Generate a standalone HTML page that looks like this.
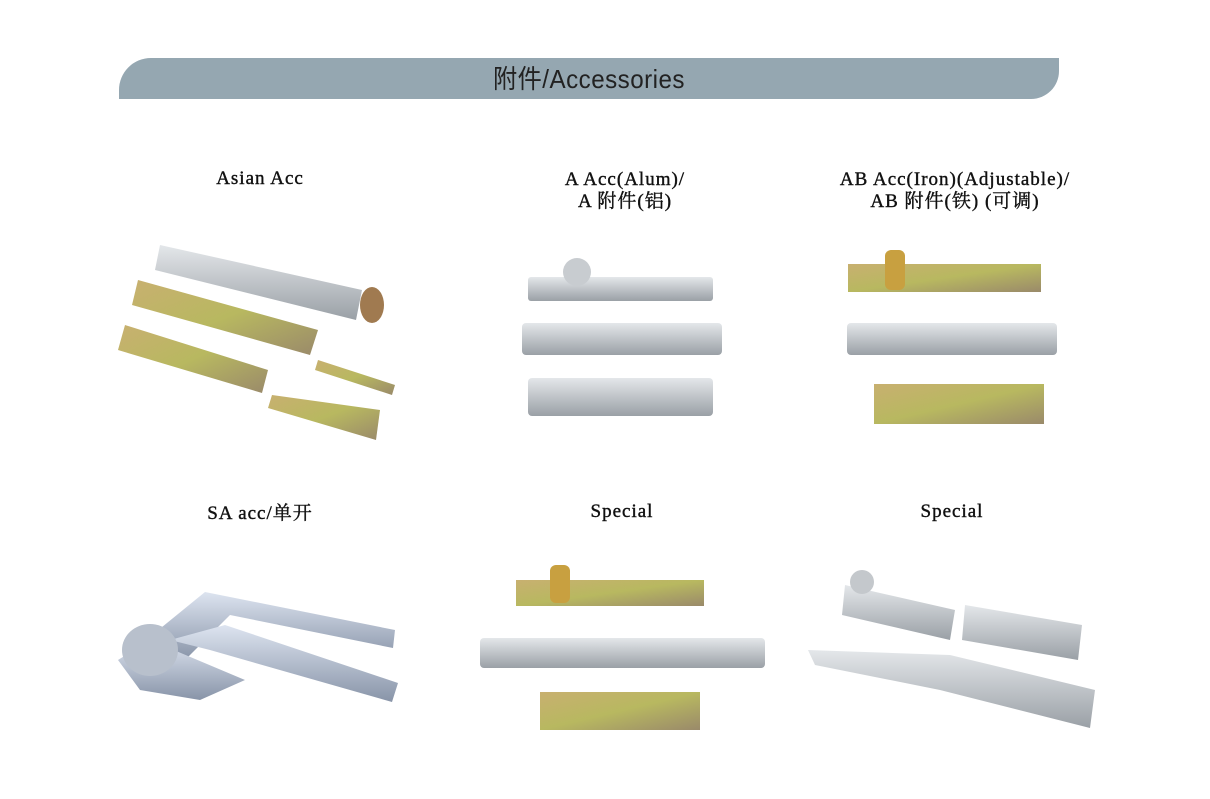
<!DOCTYPE html>
<html><head><meta charset="utf-8"><style>
body{margin:0;width:1210px;height:799px;background:#fff;position:relative;overflow:hidden;font-family:"Liberation Serif","Noto Serif CJK SC",serif}
.bar{position:absolute;left:119px;top:58px;width:940px;height:41px;background:#95a7b1;border-radius:32px 0 28px 0}
.bar span{position:absolute;left:0;right:0;top:1px;text-align:center;font:26px "Liberation Sans","Noto Sans CJK SC",sans-serif;color:#222;letter-spacing:0.5px;transform:scaleX(0.93)}
.lb{position:absolute;text-align:center;font-size:19px;color:#111;letter-spacing:1px;line-height:22px;-webkit-text-stroke:0.4px #111}
svg{position:absolute;left:0;top:0}
</style></head><body>
<div class="bar"><span>附件/Accessories</span></div>
<div class="lb" style="left:160px;top:168px;width:200px">Asian Acc</div>
<div class="lb" style="left:500px;top:169px;width:250px">A Acc(Alum)/<br>A 附件(铝)</div>
<div class="lb" style="left:790px;top:169px;width:330px">AB Acc(Iron)(Adjustable)/<br>AB 附件(铁) (可调)</div>
<div class="lb" style="left:160px;top:503px;width:200px">SA acc/单开</div>
<div class="lb" style="left:522px;top:501px;width:200px">Special</div>
<div class="lb" style="left:852px;top:501px;width:200px">Special</div>
<svg width="1210" height="799">
<defs>
<linearGradient id="s" x1="0" y1="0" x2="0" y2="1"><stop offset="0" stop-color="#e4e7ea"/><stop offset="1" stop-color="#9aa0a6"/></linearGradient>
<linearGradient id="g" x1="0" y1="0" x2="1" y2="1"><stop offset="0" stop-color="#c8b070"/><stop offset=".5" stop-color="#b8b860"/><stop offset="1" stop-color="#9a8a6a"/></linearGradient>
<linearGradient id="b" x1="0" y1="0" x2="0" y2="1"><stop offset="0" stop-color="#dde4f0"/><stop offset="1" stop-color="#8894a8"/></linearGradient>
</defs>
<polygon points="160,245 362,290 356,320 155,270" fill="url(#s)"/>
<polygon points="138,280 318,330 310,355 132,305" fill="url(#g)"/>
<polygon points="125,325 268,370 262,393 118,350" fill="url(#g)"/>
<polygon points="318,360 395,385 392,395 315,370" fill="url(#g)"/>
<polygon points="272,395 380,410 376,440 268,408" fill="url(#g)"/>
<ellipse cx="372" cy="305" rx="12" ry="18" fill="#a07a50"/>
<rect x="528" y="277" width="185" height="24" rx="3" fill="url(#s)"/>
<circle cx="577" cy="272" r="14" fill="#c8ccd0"/>
<rect x="522" y="323" width="200" height="32" rx="4" fill="url(#s)"/>
<rect x="528" y="378" width="185" height="38" rx="4" fill="url(#s)"/>
<rect x="848" y="264" width="193" height="28" fill="url(#g)"/>
<rect x="885" y="250" width="20" height="40" rx="6" fill="#c8a040"/>
<rect x="847" y="323" width="210" height="32" rx="4" fill="url(#s)"/>
<rect x="874" y="384" width="170" height="40" fill="url(#g)"/>
<polygon points="140,645 205,592 395,630 393,648 230,615 185,660" fill="url(#b)"/>
<polygon points="170,640 225,625 398,683 392,702 210,650" fill="url(#b)"/>
<polygon points="118,660 150,640 245,680 200,700 140,690" fill="url(#b)"/>
<ellipse cx="150" cy="650" rx="28" ry="26" fill="#b8c0cc"/>
<rect x="516" y="580" width="188" height="26" fill="url(#g)"/>
<rect x="550" y="565" width="20" height="38" rx="6" fill="#c8a040"/>
<rect x="480" y="638" width="285" height="30" rx="4" fill="url(#s)"/>
<rect x="540" y="692" width="160" height="38" fill="url(#g)"/>
<polygon points="845,585 955,610 950,640 842,615" fill="url(#s)"/>
<circle cx="862" cy="582" r="12" fill="#c4c8cc"/>
<polygon points="965,605 1082,625 1078,660 962,640" fill="url(#s)"/>
<polygon points="808,650 950,655 1095,690 1090,728 940,690 815,665" fill="url(#s)"/>
</svg>
</body></html>
